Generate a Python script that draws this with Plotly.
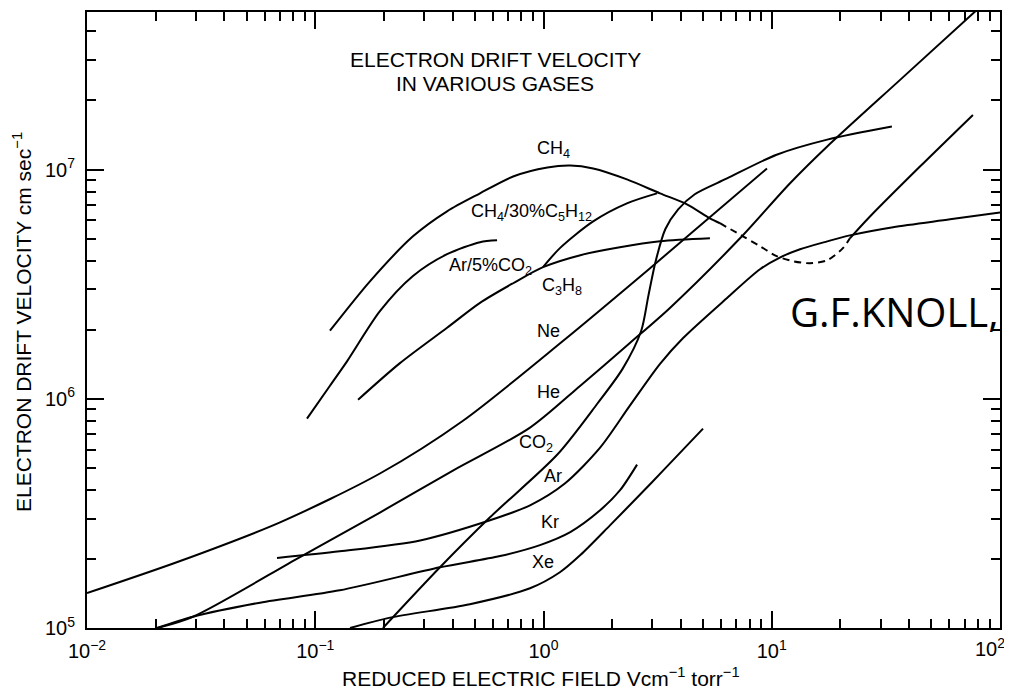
import plotly.graph_objects as go

# ---------------- data ----------------
ch4_x = [0.116, 0.174, 0.268, 0.378, 0.527, 0.736, 1.04, 1.31, 1.65, 2.32, 3.24, 4.25, 5.36, 5.93]
ch4_y = [1.98e6, 3.26e6, 5.11e6, 6.57e6, 7.87e6, 9.32e6, 1.02e7, 1.04e7, 1.01e7, 9.05e6, 7.87e6, 7.05e6, 6.12e6, 5.83e6]
ch4_dash_x = [5.93, 7.48, 8.88, 10.5, 12.4, 14.7, 17.5, 20.5, 22.0]
ch4_dash_y = [5.83e6, 5.11e6, 4.63e6, 4.19e6, 3.98e6, 3.90e6, 4.02e6, 4.54e6, 5.01e6]
ch4_high_x = [22.0, 27.0, 44.6, 76.1]
ch4_high_y = [5.01e6, 6.25e6, 1.03e7, 1.73e7]

ch4c5_x = [0.995, 1.18, 1.65, 2.32, 3.14]
ch4c5_y = [3.75e6, 4.54e6, 5.94e6, 7.12e6, 7.87e6]

arco2_x = [0.092, 0.116, 0.138, 0.192, 0.268, 0.378, 0.527, 0.626]
arco2_y = [8.19e5, 1.14e6, 1.46e6, 2.41e6, 3.43e6, 4.27e6, 4.82e6, 4.91e6]

c3h8_x = [0.154, 0.235, 0.378, 0.527, 0.736, 0.995, 1.45, 2.16, 3.24, 5.36]
c3h8_y = [9.9e5, 1.43e6, 2.04e6, 2.62e6, 3.19e6, 3.75e6, 4.23e6, 4.58e6, 4.86e6, 5.01e6]

ne_x = [0.01, 0.0256, 0.0701, 0.192, 0.444, 1.22, 2.93, 9.53]
ne_y = [1.42e5, 1.96e5, 2.89e5, 4.72e5, 8.02e5, 1.79e6, 3.71e6, 1.01e7]

he_x = [0.0203, 0.0291, 0.0857, 0.192, 0.401, 0.873, 1.45, 2.39, 3.58, 7.26, 12.0, 17.5, 36.5, 81.7]
he_y = [1.0e5, 1.12e5, 2.04e5, 3.19e5, 4.86e5, 7.48e5, 1.14e6, 1.75e6, 2.49e6, 5.01e6, 8.69e6, 1.26e7, 2.46e7, 5.11e7]

co2_x = [0.198, 0.352, 0.583, 1.15, 1.72, 2.22, 2.68, 2.88, 3.10, 3.42, 3.89, 4.60, 6.37, 10.5, 17.5, 33.6]
co2_y = [1.0e5, 1.84e5, 3.04e5, 5.71e5, 9.51e5, 1.35e6, 1.98e6, 2.81e6, 3.98e6, 5.50e6, 6.70e6, 7.80e6, 9.14e6, 1.16e7, 1.35e7, 1.54e7]

ar_x = [0.068, 0.128, 0.288, 0.583, 0.873, 1.24, 1.77, 2.39, 3.24, 4.09, 6.37, 8.88, 10.9, 13.3, 17.5, 22.0, 34.0, 60.4, 100]
ar_y = [2.02e5, 2.16e5, 2.41e5, 2.95e5, 3.43e5, 4.27e5, 6.12e5, 9.33e5, 1.42e6, 1.84e6, 2.75e6, 3.67e6, 4.14e6, 4.49e6, 4.86e6, 5.16e6, 5.6e6, 6.06e6, 6.5e6]

kr_x = [0.0203, 0.0291, 0.0573, 0.128, 0.352, 0.645, 0.965, 1.31, 1.77, 2.16, 2.57]
kr_y = [1.0e5, 1.12e5, 1.29e5, 1.46e5, 1.84e5, 2.06e5, 2.30e5, 2.62e5, 3.26e5, 3.98e5, 5.16e5]

xe_x = [0.142, 0.213, 0.476, 0.873, 1.18, 1.45, 1.96, 2.65, 3.34, 5.0]
xe_y = [1.0e5, 1.11e5, 1.27e5, 1.49e5, 1.75e5, 2.08e5, 2.81e5, 3.82e5, 4.86e5, 7.41e5]

x_tick_vals = [0.01, 0.1, 1, 10, 100]
x_tick_text = ["10<sup>\u22122</sup>", "10<sup>\u22121</sup>", "10<sup>0</sup>", "10<sup>1</sup>", "10<sup>2</sup>"]
y_tick_vals = [1e5, 1e6, 1e7]
y_tick_text = ["10<sup>5</sup>", "10<sup>6</sup>", "10<sup>7</sup>"]

curve_labels = [
    ("CH<sub>4</sub>", 553, 148),
    ("CH<sub>4</sub>/30%C<sub>5</sub>H<sub>12</sub>", 531, 211),
    ("Ar/5%CO<sub>2</sub>", 490, 265),
    ("C<sub>3</sub>H<sub>8</sub>", 562, 285),
    ("Ne", 548, 330),
    ("He", 548, 391),
    ("CO<sub>2</sub>", 536, 443),
    ("Ar", 553, 476),
    ("Kr", 550, 522),
    ("Xe", 543, 562),
]

# ---------------- layout geometry (page pixels; the page body has an 8px margin) ----------------
PAGE_OFF = 8
W, H = 1012 - PAGE_OFF, 694 - PAGE_OFF
PLOT_L, PLOT_R, PLOT_T, PLOT_B = 87, 1000, 10, 628          # page pixels of the plot frame
L, T = PLOT_L - PAGE_OFF, PLOT_T - PAGE_OFF
PW, PH = PLOT_R - PLOT_L, PLOT_B - PLOT_T
R, B = W - L - PW, H - T - PH


def px(xp):
    return (xp - PLOT_L) / PW


def py(yp):
    return (PLOT_B - yp) / PH


FONT = "Liberation Sans, Arial, Helvetica, sans-serif"
LINE = dict(color="black", width=2, shape="spline", smoothing=0.8)

fig = go.Figure()
series = [
    ("CH4", ch4_x, ch4_y, None),
    ("CH4 (transition)", ch4_dash_x, ch4_dash_y, "7px,5px"),
    ("CH4 (high field)", ch4_high_x, ch4_high_y, None),
    ("CH4/30%C5H12", ch4c5_x, ch4c5_y, None),
    ("Ar/5%CO2", arco2_x, arco2_y, None),
    ("C3H8", c3h8_x, c3h8_y, None),
    ("Ne", ne_x, ne_y, None),
    ("He", he_x, he_y, None),
    ("CO2", co2_x, co2_y, None),
    ("Ar", ar_x, ar_y, None),
    ("Kr", kr_x, kr_y, None),
    ("Xe", xe_x, xe_y, None),
]
for name, xs, ys, dash in series:
    line = dict(LINE)
    if dash:
        line["dash"] = dash
    fig.add_trace(go.Scatter(x=xs, y=ys, mode="lines", name=name, line=line,
                             showlegend=False, hoverinfo="x+y+name"))

x_minor = [m * 10 ** d for d in range(-2, 2) for m in range(2, 10)]
y_minor = [m * 10 ** d for d in range(5, 8) for m in range(2, 10) if m * 10 ** d < 4.9e7]

TICKFONT = dict(family=FONT, size=20, color="black")
axis_common = dict(
    type="log", showgrid=False, zeroline=False,
    showline=True, linecolor="black", linewidth=2, mirror="allticks",
    ticks="inside", ticklen=17, tickwidth=1.5, tickcolor="black",
    tickfont=TICKFONT, tickmode="array",
)

# the last x tick label sits at the page edge, so it is drawn as an annotation
fig.update_xaxes(
    **axis_common,
    range=[-2, 2],
    tickvals=x_tick_vals, ticktext=x_tick_text[:-1] + [""],
    ticklabelstandoff=4,
    minor=dict(tickmode="array", tickvals=x_minor, ticks="inside", ticklen=9,
               tickwidth=1.5, tickcolor="black", showgrid=False),
)
fig.update_yaxes(
    **axis_common,
    range=[5, 7.687],
    tickvals=y_tick_vals, ticktext=y_tick_text,
    ticklabelstandoff=6,
    minor=dict(tickmode="array", tickvals=y_minor, ticks="inside", ticklen=9,
               tickwidth=1.5, tickcolor="black", showgrid=False),
)

annotations = []
for text, xp, yp in curve_labels:
    annotations.append(dict(text=text, x=px(xp), y=py(yp), xref="paper", yref="paper",
                            showarrow=False, xanchor="center", yanchor="middle",
                            font=dict(family=FONT, size=18, color="black")))

annotations += [
    dict(text=x_tick_text[-1], x=px(1007), y=py(648), xref="paper", yref="paper",
         showarrow=False, xanchor="right", yanchor="middle", font=TICKFONT),
    dict(text="ELECTRON DRIFT VELOCITY", x=px(495), y=py(58), xref="paper", yref="paper",
         showarrow=False, xanchor="center", yanchor="middle",
         font=dict(family=FONT, size=21, color="black")),
    dict(text="IN VARIOUS GASES", x=px(495), y=py(82), xref="paper", yref="paper",
         showarrow=False, xanchor="center", yanchor="middle",
         font=dict(family=FONT, size=21, color="black")),
    dict(text="REDUCED ELECTRIC FIELD Vcm<sup>\u22121</sup> torr<sup>\u22121</sup>",
         x=px(541), y=py(677), xref="paper", yref="paper",
         showarrow=False, xanchor="center", yanchor="middle",
         font=dict(family=FONT, size=21, color="black")),
    dict(text="ELECTRON DRIFT VELOCITY cm sec<sup>\u22121</sup>",
         x=px(22), y=py(321), xref="paper", yref="paper", textangle=-90,
         showarrow=False, xanchor="center", yanchor="middle",
         font=dict(family=FONT, size=21, color="black")),
    dict(text="G.F.KNOLL,", x=px(788), y=py(310), xref="paper", yref="paper",
         showarrow=False, xanchor="left", yanchor="middle",
         font=dict(family="Open Sans, Noto Sans, sans-serif", size=40, color="black")),
]

fig.update_layout(
    width=W, height=H,
    margin=dict(l=L, r=R, t=T, b=B, pad=0),
    paper_bgcolor="white", plot_bgcolor="white",
    showlegend=False,
    annotations=annotations,
    font=dict(family=FONT, color="black"),
)

fig.write_html("out.html")
